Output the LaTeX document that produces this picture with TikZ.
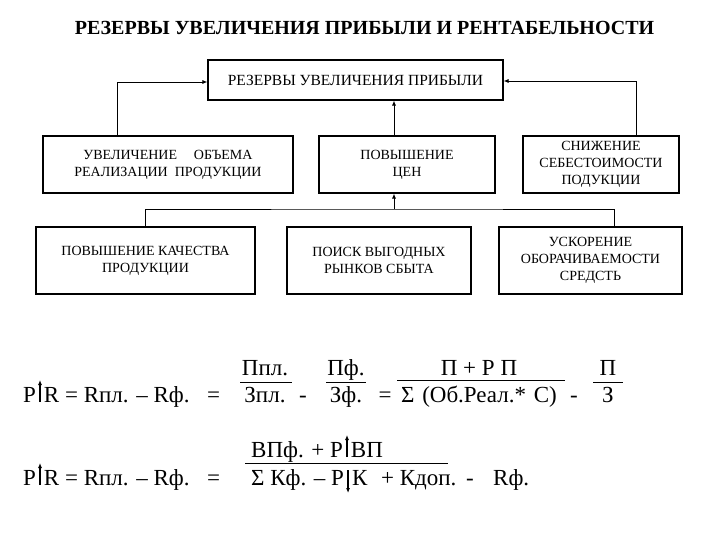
\documentclass[tikz,border=0pt]{standalone}
\usepackage{fontspec}
\setmainfont{Liberation Serif}
\usetikzlibrary{arrows.meta}
\tikzset{
    block/.style={
        draw, line width = 1.1pt,
        align = center,
        inner sep = 0pt,
        font = \fontsize{14}{17}\selectfont
    },
    line/.style = {-{Latex[length=5pt,width=4pt]}, line width = 0.8pt},
    formula/.style = {anchor = base, inner sep = 0pt, font = \fontsize{23}{27}\selectfont},
    bar/.style = {line width = 1pt}
}
\newcommand{\arrup}{\hspace{2pt}\tikz[baseline=0pt]\draw[-{Latex[length=5pt,width=4pt]}, line width=1.2pt] (0pt,0pt) -- (0pt,22pt);\hspace{2pt}}
\newcommand{\arrdown}{\hspace{2pt}\tikz[baseline=0pt]\draw[-{Latex[length=5pt,width=4pt]}, line width=1.2pt] (0pt,15pt) -- (0pt,-8pt);\hspace{2pt}}
\begin{document}
\begin{tikzpicture}[x=1pt, y=-1pt]
    \useasboundingbox (0,0) rectangle (720,540);

    % Title
    \node[font=\bfseries\fontsize{20}{24}\selectfont] (title) at (364.5,28) {РЕЗЕРВЫ УВЕЛИЧЕНИЯ ПРИБЫЛИ И РЕНТАБЕЛЬНОСТИ};

    % Top box
    \node[block, minimum width=295pt, minimum height=40pt, font=\fontsize{15.5}{18}\selectfont] (reserves) at (355.5,80) {РЕЗЕРВЫ УВЕЛИЧЕНИЯ ПРИБЫЛИ};

    % Middle row
    \node[block, minimum width=250pt, minimum height=57pt] (volume) at (168,164.5) {УВЕЛИЧЕНИЕ\hspace{1.2em}ОБЪЕМА\\РЕАЛИЗАЦИИ\hspace{0.5em}ПРОДУКЦИИ};
    \node[block, minimum width=176pt, minimum height=57pt] (prices) at (407,164.5) {ПОВЫШЕНИЕ\\ЦЕН};
    \node[block, minimum width=156pt, minimum height=57pt] (cost) at (601,164.5) {СНИЖЕНИЕ\\СЕБЕСТОИМОСТИ\\ПОДУКЦИИ};

    % Bottom row
    \node[block, minimum width=219pt, minimum height=67pt] (quality) at (145.5,260.5) {ПОВЫШЕНИЕ КАЧЕСТВА\\ПРОДУКЦИИ};
    \node[block, minimum width=184pt, minimum height=67pt] (markets) at (379,260.5) {ПОИСК ВЫГОДНЫХ\\РЫНКОВ СБЫТА};
    \node[block, minimum width=183pt, minimum height=67pt] (turnover) at (590.5,260.5) {УСКОРЕНИЕ\\ОБОРАЧИВАЕМОСТИ\\СРЕДСТЬ};

    % Connectors
    \coordinate (bus) at (394,209);
    \draw[line] ([xshift=-51pt]volume.north) |- ([yshift=-2pt]reserves.west);
    \draw[line] ([xshift=35pt]cost.north) |- ([yshift=-1pt]reserves.east);
    \draw[line] (bus |- prices.north) -- (bus |- reserves.south);
    \draw[line] (bus) -- (bus |- prices.south);
    \draw[line width=0.8pt] (quality.north) |- (bus) -| ([xshift=23.5pt]turnover.north);

    % First formula
    \node[formula, anchor=base west] (lhsa) at (23,402) {Р\arrup R = Rпл. – Rф.};
    \node[formula] (eqa) at (213.5,402) {=};
    \node[formula] (numa) at (265,375) {Ппл.};
    \node[formula] (dena) at (265,402) {Зпл.};
    \draw[bar] (240,382) -- (292,382);
    \node[formula] (minusa) at (303,402) {-};
    \node[formula] (numb) at (346,375) {Пф.};
    \node[formula] (denb) at (346,402) {Зф.};
    \draw[bar] (326,382) -- (366,382);
    \node[formula] (eqb) at (385,402) {=};
    \node[formula] (numc) at (479,375) {П + Р П};
    \node[formula] (denc) at (479,402) {Σ\hspace{2pt} (Об.Реал.*\hspace{2pt} С)};
    \draw[bar] (397,380) -- (565,380);
    \node[formula] (minusb) at (574,402) {-};
    \node[formula] (numd) at (608,375) {П};
    \node[formula] (dend) at (608,402) {З};
    \draw[bar] (593,382) -- (623,382);

    % Second formula
    \node[formula, anchor=base west] (lhsb) at (23,485) {Р\arrup R = Rпл. – Rф.};
    \node[formula] (eqc) at (213.5,485) {=};
    \node[formula, anchor=base west] (nume) at (251,457) {ВПф. + Р\arrup ВП};
    \node[formula, anchor=base west] (dene) at (251,485) {Σ Кф. – Р\arrdown К\hspace{8pt} + Кдоп.};
    \draw[bar] (245,463) -- (448,463);
    \node[formula] (minusc) at (470,485) {-};
    \node[formula, anchor=base west] (rf) at (493,485) {Rф.};

\end{tikzpicture}
\end{document}
